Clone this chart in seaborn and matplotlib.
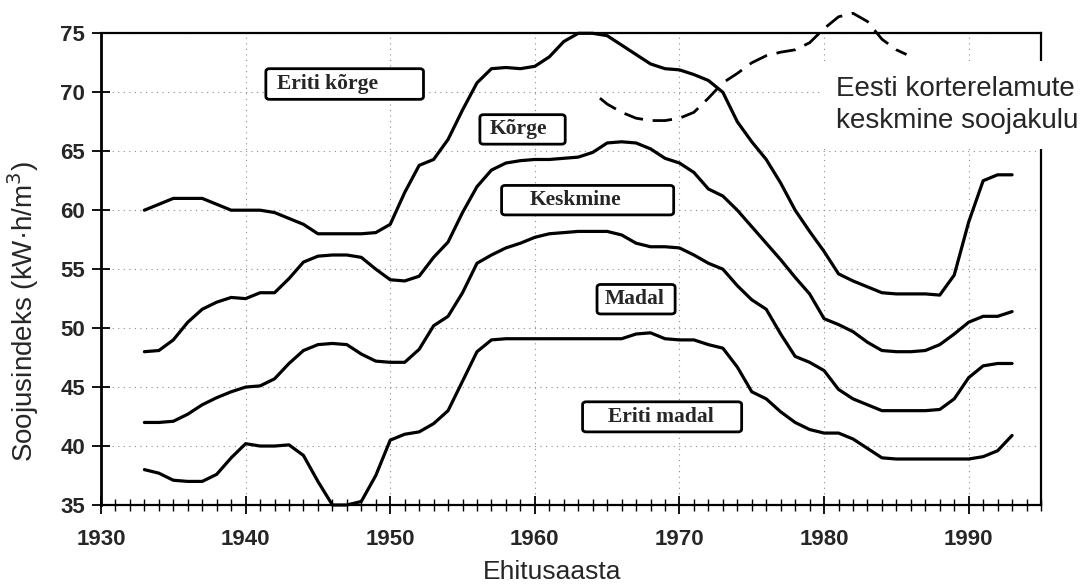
import matplotlib
matplotlib.use("Agg")
import matplotlib.pyplot as plt
import pandas as pd
import seaborn as sns
from matplotlib.patches import FancyBboxPatch
from matplotlib.ticker import MultipleLocator

# Construction years of the class boundary curves
years = list(range(1933, 1994))

# Boundary between "Eriti kõrge" and "Kõrge"
piir_eriti_korge = [
    60.0, 60.5, 61.0, 61.0, 61.0, 60.5, 60.0, 60.0, 60.0, 59.8,
    59.3, 58.8, 58.0, 58.0, 58.0, 58.0, 58.1, 58.8, 61.5, 63.8,
    64.3, 66.0, 68.5, 70.8, 72.0, 72.1, 72.0, 72.2, 73.0, 74.3,
    75.0, 75.0, 74.8, 74.0, 73.2, 72.4, 72.0, 71.9, 71.5, 71.0,
    70.0, 67.5, 65.8, 64.3, 62.3, 60.0, 58.2, 56.5, 54.6, 54.0,
    53.5, 53.0, 52.9, 52.9, 52.9, 52.8, 54.5, 59.0, 62.5, 63.0,
    63.0,
]
# Boundary between "Kõrge" and "Keskmine"
piir_korge = [
    48.0, 48.1, 49.0, 50.5, 51.6, 52.2, 52.6, 52.5, 53.0, 53.0,
    54.2, 55.6, 56.1, 56.2, 56.2, 56.0, 55.0, 54.1, 54.0, 54.4,
    56.0, 57.3, 59.8, 62.0, 63.4, 64.0, 64.2, 64.3, 64.3, 64.4,
    64.5, 64.9, 65.7, 65.8, 65.7, 65.2, 64.4, 64.0, 63.2, 61.8,
    61.2, 60.0, 58.6, 57.2, 55.8, 54.3, 52.9, 50.8, 50.3, 49.7,
    48.8, 48.1, 48.0, 48.0, 48.1, 48.6, 49.5, 50.5, 51.0, 51.0,
    51.4,
]
# Boundary between "Keskmine" and "Madal"
piir_keskmine = [
    42.0, 42.0, 42.1, 42.7, 43.5, 44.1, 44.6, 45.0, 45.1, 45.7,
    47.0, 48.1, 48.6, 48.7, 48.6, 47.8, 47.2, 47.1, 47.1, 48.2,
    50.2, 51.0, 53.0, 55.5, 56.2, 56.8, 57.2, 57.7, 58.0, 58.1,
    58.2, 58.2, 58.2, 57.9, 57.2, 56.9, 56.9, 56.8, 56.2, 55.5,
    55.0, 53.6, 52.4, 51.6, 49.5, 47.6, 47.1, 46.4, 44.8, 44.0,
    43.5, 43.0, 43.0, 43.0, 43.0, 43.1, 44.0, 45.8, 46.8, 47.0,
    47.0,
]
# Boundary between "Madal" and "Eriti madal"
piir_madal = [
    38.0, 37.7, 37.1, 37.0, 37.0, 37.6, 39.0, 40.2, 40.0, 40.0,
    40.1, 39.2, 37.0, 35.0, 35.0, 35.3, 37.5, 40.5, 41.0, 41.2,
    41.9, 43.0, 45.5, 48.0, 49.0, 49.1, 49.1, 49.1, 49.1, 49.1,
    49.1, 49.1, 49.1, 49.1, 49.5, 49.6, 49.1, 49.0, 49.0, 48.6,
    48.3, 46.7, 44.6, 44.0, 42.9, 42.0, 41.4, 41.1, 41.1, 40.6,
    39.8, 39.0, 38.9, 38.9, 38.9, 38.9, 38.9, 38.9, 39.1, 39.6,
    40.9,
]

# Average heat consumption of Estonian apartment buildings
soojakulu_aastad = [
    1964.5, 1965, 1966, 1967, 1968, 1969, 1970, 1971, 1972, 1973,
    1974, 1975, 1976, 1977, 1978, 1979, 1980, 1981, 1982, 1983,
    1984, 1985, 1985.7,
]
soojakulu = [
    69.5, 69.0, 68.3, 67.8, 67.6, 67.6, 67.8, 68.3, 69.5, 70.8,
    71.6, 72.5, 73.1, 73.4, 73.6, 74.2, 75.4, 76.4, 76.7, 76.0,
    74.5, 73.6, 73.2,
]

klassid = ["Eriti kõrge", "Kõrge", "Keskmine", "Madal", "Eriti madal"]
x_ticks = [1930, 1940, 1950, 1960, 1970, 1980, 1990]
y_ticks = [35, 40, 45, 50, 55, 60, 65, 70, 75]

piirid = pd.DataFrame({
    "Ehitusaasta": years * 4,
    "Soojusindeks": piir_eriti_korge + piir_korge + piir_keskmine + piir_madal,
    "piir": (["eriti_korge"] * len(years) + ["korge"] * len(years)
             + ["keskmine"] * len(years) + ["madal"] * len(years)),
})
keskmine_df = pd.DataFrame({"Ehitusaasta": soojakulu_aastad,
                            "Soojusindeks": soojakulu})

sns.set_style("white")
plt.rcParams["font.family"] = ["Liberation Sans", "DejaVu Sans"]

fig = plt.figure(figsize=(10.81, 5.88), dpi=100)
ax = fig.add_axes([101 / 1081, 1 - 505 / 588, 940 / 1081, 471.7 / 588])

sns.lineplot(data=piirid, x="Ehitusaasta", y="Soojusindeks", hue="piir",
             palette=["black"] * 4, legend=False, linewidth=2.3,
             clip_on=False, solid_joinstyle="round", ax=ax, zorder=3)
sns.lineplot(data=keskmine_df, x="Ehitusaasta", y="Soojusindeks",
             color="black", linewidth=2.0, linestyle=(0, (7, 3.5)),
             clip_on=False, ax=ax, zorder=3)

ax.set_xlim(1930, 1995)
ax.set_ylim(35, 75)
ax.set_xticks(x_ticks)
ax.set_yticks(y_ticks)
ax.xaxis.set_minor_locator(MultipleLocator(1))
ax.set_xticklabels([str(t) for t in x_ticks], fontsize=16, fontweight="bold")
ax.set_yticklabels([str(t) for t in y_ticks], fontsize=16, fontweight="bold")
ax.tick_params(axis="x", which="major", direction="inout", length=13,
               width=1.3, pad=11, color="black", bottom=True)
ax.tick_params(axis="x", which="minor", direction="inout", length=8,
               width=1.0, color="black", bottom=True)
ax.tick_params(axis="y", which="major", direction="inout", length=13,
               width=1.3, pad=5, color="black", left=True)

ax.grid(True, which="major", linestyle=(0, (1, 4)), color="0.55",
        linewidth=0.8)
ax.set_axisbelow(True)

for side, lw in (("left", 2.0), ("bottom", 1.6), ("top", 1.6), ("right", 1.6)):
    ax.spines[side].set_visible(True)
    ax.spines[side].set_color("black")
    ax.spines[side].set_linewidth(lw)

ax.set_xlabel("Ehitusaasta", fontsize=19)
ax.set_ylabel("Soojusindeks (kW·h/m$^3$)", fontsize=20)
ax.xaxis.set_label_coords(0.48, -0.117)
ax.yaxis.set_label_coords(-0.064, 0.41)

# Class label boxes: (left, bottom, width, height, text x, text y)
kastid = {
    "Eriti kõrge": (1941.4, 69.4, 10.9, 2.6, 1945.65, 70.7),
    "Kõrge": (1956.2, 65.6, 5.9, 2.5, 1958.85, 66.85),
    "Keskmine": (1957.7, 59.6, 11.9, 2.5, 1962.8, 60.85),
    "Madal": (1964.3, 51.2, 5.4, 2.5, 1966.9, 52.45),
    "Eriti madal": (1963.3, 41.2, 11.0, 2.55, 1968.7, 42.45),
}
for nimi in klassid:
    x0, y0, w, h, tx, ty = kastid[nimi]
    ax.add_patch(FancyBboxPatch((x0, y0), w, h,
                                boxstyle="round,pad=0,rounding_size=0.25",
                                facecolor="white", edgecolor="black",
                                linewidth=2.0, zorder=4))
    ax.text(tx, ty, nimi, ha="center", va="center", fontsize=15.5,
            fontweight="bold", family=["Liberation Serif", "DejaVu Serif"],
            zorder=5)

fig.text(836 / 1081, 1 - 76 / 588,
         "Eesti korterelamute\nkeskmine soojakulu",
         ha="left", va="top", fontsize=20, linespacing=1.3, zorder=10,
         bbox=dict(boxstyle="square", pad=0.55, facecolor="white",
                   edgecolor="none"))

fig.savefig("out.png", dpi=100, facecolor="white")
